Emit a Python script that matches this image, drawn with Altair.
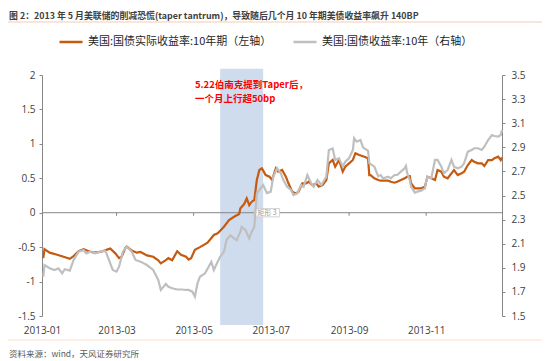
import altair as alt
import pandas as pd

S1 = "美国:国债实际收益率:10年期（左轴）"
S2 = "美国:国债收益率:10年（右轴）"
TITLE = "图 2：2013 年 5 月美联储的削减恐慌(taper tantrum)，导致随后几个月 10 年期美债收益率飙升 140BP"
SOURCE = "资料来源：wind，天风证券研究所"
NOTE = ["5.22伯南克提到Taper后，", "一个月上行超50bp"]

real_dates = ["2013-01-02","2013-01-03","2013-01-07","2013-01-13","2013-01-18","2013-01-23","2013-01-26","2013-01-30",
    "2013-02-03","2013-02-07","2013-02-11","2013-02-16","2013-02-21","2013-02-24","2013-02-28",
    "2013-03-03","2013-03-05","2013-03-08","2013-03-09","2013-03-13","2013-03-17","2013-03-20","2013-03-25","2013-03-30",
    "2013-04-03","2013-04-05","2013-04-09","2013-04-11","2013-04-14","2013-04-18","2013-04-21","2013-04-25","2013-04-27","2013-04-29",
    "2013-05-02","2013-05-06","2013-05-12","2013-05-17","2013-05-20","2013-05-22","2013-05-25","2013-05-29",
    "2013-06-02","2013-06-06","2013-06-07","2013-06-10","2013-06-12","2013-06-14","2013-06-16","2013-06-18","2013-06-20","2013-06-22","2013-06-24","2013-06-27","2013-06-30",
    "2013-07-02","2013-07-05","2013-07-07","2013-07-10","2013-07-13","2013-07-15","2013-07-18","2013-07-21","2013-07-23","2013-07-26","2013-07-29","2013-07-31",
    "2013-08-03","2013-08-06","2013-08-08","2013-08-11","2013-08-14","2013-08-16","2013-08-19","2013-08-21","2013-08-24","2013-08-27","2013-08-29",
    "2013-09-01","2013-09-04","2013-09-06","2013-09-09","2013-09-12","2013-09-16","2013-09-17","2013-09-18","2013-09-21","2013-09-24","2013-09-26",
    "2013-10-02","2013-10-04","2013-10-07","2013-10-09","2013-10-12","2013-10-15","2013-10-17","2013-10-19","2013-10-20","2013-10-23","2013-10-25","2013-10-28","2013-10-31",
    "2013-11-01","2013-11-02","2013-11-05","2013-11-08","2013-11-09","2013-11-10","2013-11-13","2013-11-15","2013-11-18","2013-11-21","2013-11-23","2013-11-26","2013-11-29",
    "2013-12-01","2013-12-04","2013-12-07","2013-12-09","2013-12-12","2013-12-15","2013-12-17","2013-12-20","2013-12-23","2013-12-25","2013-12-28","2013-12-30","2013-12-31"]
real_values = [-0.66,-0.53,-0.58,-0.61,-0.64,-0.67,-0.63,-0.56,
    -0.53,-0.56,-0.58,-0.57,-0.54,-0.52,-0.59,
    -0.66,-0.64,-0.51,-0.49,-0.55,-0.58,-0.57,-0.62,-0.64,
    -0.69,-0.735,-0.69,-0.66,-0.69,-0.56,-0.61,-0.64,-0.68,-0.66,
    -0.54,-0.50,-0.436,-0.324,-0.30,-0.261,-0.203,-0.106,
    -0.058,-0.019,0.064,0.126,0.209,0.11,0.16,0.184,0.475,0.62,0.645,0.547,0.523,
    0.475,0.645,0.596,0.62,0.523,0.427,0.305,0.28,0.305,0.427,0.427,0.45,
    0.40,0.427,0.378,0.40,0.475,0.717,0.766,0.668,0.766,0.597,0.668,
    0.717,0.766,0.863,0.838,0.82,0.79,0.547,0.547,0.50,0.475,0.465,
    0.465,0.45,0.436,0.45,0.475,0.50,0.523,0.533,0.43,0.354,0.354,0.354,0.378,
    0.45,0.523,0.50,0.475,0.547,0.62,0.596,0.523,0.50,0.572,0.62,0.547,0.572,
    0.596,0.693,0.765,0.741,0.717,0.717,0.678,0.765,0.765,0.79,0.814,0.765,0.804]

nominal_dates = ["2013-01-02","2013-01-03","2013-01-07","2013-01-11","2013-01-14","2013-01-17","2013-01-19","2013-01-23","2013-01-26","2013-01-30",
    "2013-02-03","2013-02-05","2013-02-08","2013-02-12","2013-02-16","2013-02-20","2013-02-21","2013-02-24","2013-02-26",
    "2013-03-01","2013-03-03","2013-03-06","2013-03-09","2013-03-13","2013-03-16","2013-03-20","2013-03-25","2013-03-30",
    "2013-04-03","2013-04-05","2013-04-09","2013-04-11","2013-04-14","2013-04-18","2013-04-22","2013-04-25","2013-04-27","2013-04-30",
    "2013-05-02","2013-05-04","2013-05-06","2013-05-10","2013-05-13","2013-05-15","2013-05-17","2013-05-20","2013-05-22","2013-05-25","2013-05-27","2013-05-30",
    "2013-06-02","2013-06-04","2013-06-07","2013-06-08","2013-06-11","2013-06-14","2013-06-16","2013-06-18","2013-06-20","2013-06-23","2013-06-25","2013-06-28",
    "2013-07-01","2013-07-03","2013-07-06","2013-07-09","2013-07-11","2013-07-14","2013-07-17","2013-07-19","2013-07-22","2013-07-25","2013-07-27","2013-07-30",
    "2013-08-02","2013-08-04","2013-08-07","2013-08-10","2013-08-14","2013-08-16","2013-08-19","2013-08-21","2013-08-24","2013-08-27","2013-08-29",
    "2013-09-01","2013-09-04","2013-09-05","2013-09-07","2013-09-10","2013-09-12","2013-09-16","2013-09-17","2013-09-18","2013-09-21","2013-09-24","2013-09-26","2013-09-28",
    "2013-10-02","2013-10-04","2013-10-07","2013-10-09","2013-10-12","2013-10-15","2013-10-16","2013-10-17","2013-10-19","2013-10-20","2013-10-23","2013-10-25","2013-10-28","2013-10-31",
    "2013-11-01","2013-11-02","2013-11-05","2013-11-08","2013-11-10","2013-11-13","2013-11-15","2013-11-18","2013-11-21","2013-11-23","2013-11-26","2013-11-29",
    "2013-12-01","2013-12-04","2013-12-07","2013-12-09","2013-12-12","2013-12-15","2013-12-17","2013-12-20","2013-12-23","2013-12-25","2013-12-28","2013-12-30","2013-12-31"]
nominal_values = [1.826,1.923,1.896,1.882,1.896,1.854,1.888,1.877,1.965,2.034,
    2.048,2.02,2.034,2.02,2.034,2.041,2.02,1.937,1.882,
    1.868,1.909,2.034,2.075,2.034,1.965,1.951,1.923,1.882,
    1.799,1.716,1.766,1.743,1.73,1.72,1.72,1.716,1.716,1.702,
    1.66,1.77,1.826,1.854,1.91,1.95,1.882,1.95,1.992,2.034,2.13,2.17,
    2.145,2.13,2.2,2.24,2.214,2.145,2.2,2.24,2.518,2.56,2.587,2.52,
    2.532,2.656,2.726,2.684,2.628,2.573,2.546,2.504,2.518,2.587,2.573,2.67,
    2.601,2.573,2.628,2.587,2.656,2.878,2.89,2.795,2.81,2.74,2.78,
    2.81,2.878,2.975,2.947,2.961,2.90,2.87,2.768,2.76,2.739,2.66,2.67,2.642,
    2.656,2.642,2.67,2.67,2.698,2.726,2.745,2.684,2.628,2.573,2.523,2.532,2.54,2.56,
    2.615,2.656,2.642,2.795,2.795,2.739,2.684,2.712,2.795,2.739,2.726,2.739,
    2.767,2.864,2.878,2.892,2.892,2.878,2.905,2.96,3.002,2.994,2.988,3.002,3.044]

x_label_dates = ["2013-01-01","2013-03-01","2013-05-01","2013-07-01","2013-09-01","2013-11-01"]
left_ticks = [-1.5, -1, -0.5, 0, 0.5, 1, 1.5, 2]
right_ticks = [1.5, 1.7, 1.9, 2.1, 2.3, 2.5, 2.7, 2.9, 3.1, 3.3, 3.5]
shade_span = ["2013-05-22", "2013-06-25"]
note_date = "2013-05-02"
note_levels = [1.855, 1.651]

ORANGE = "#C55A11"
GRAY = "#BFBFBF"
CJK = "Noto Sans CJK SC"
NUM = "Open Sans"

def dt(s):
    y, m, d = (int(p) for p in s.split("-"))
    return alt.DateTime(year=y, month=m, date=d, utc=True)

xscale = alt.Scale(type="utc", domain=[dt("2013-01-01"), dt("2013-12-31")])
lscale = alt.Scale(domain=[-1.5, 2], nice=False, zero=False)
rscale = alt.Scale(domain=[1.5, 3.5], nice=False, zero=False)
cscale = alt.Scale(domain=[S1, S2], range=[ORANGE, GRAY])

xaxis = alt.Axis(values=[dt(s) for s in x_label_dates], format="%Y-%m", title=None, grid=False,
                 domain=False, ticks=False, tickSize=0, labelPadding=9, labelFontSize=10,
                 labelColor="#404040", labelFont=NUM, labelFlush=False, labelOverlap=False)
laxis = alt.Axis(values=left_ticks, labelExpr="datum.value + ''", title=None, grid=False,
                 domainColor="#868686", tickColor="#868686", tickSize=3, labelPadding=4,
                 labelFontSize=10, labelColor="#404040", labelFont=NUM)
raxis = alt.Axis(values=right_ticks, labelExpr="datum.value + ''", title=None, grid=False, orient="right",
                 domainColor="#868686", tickColor="#868686", tickSize=3, labelPadding=6,
                 labelFontSize=10, labelColor="#404040", labelFont=NUM)
legend = alt.Legend(title=None, orient="none", legendX=16, legendY=-46, direction="horizontal",
                    symbolType="stroke", symbolSize=530, symbolStrokeWidth=2.5, labelFontSize=11,
                    labelFont=CJK, labelColor="#262626", columnPadding=16, labelLimit=400, padding=0,
                    labelOffset=4)

def X(f):
    return alt.X(f, type="temporal", scale=xscale, axis=xaxis)

def YL(f):
    return alt.Y(f, type="quantitative", scale=lscale, axis=laxis)

real_df = pd.DataFrame({"date": real_dates, "v": real_values, "series": S1})
nom_df = pd.DataFrame({"date": nominal_dates, "v": nominal_values, "series": S2})

shade = alt.Chart(pd.DataFrame({"s": [shade_span[0]], "e": [shade_span[1]], "top": [2.09], "bot": [-1.63]})).mark_rect(
    color="#CFDCEE").encode(x=X("s"), x2="e:T", y=YL("top"), y2="bot:Q")

zero = alt.Chart(pd.DataFrame({"z": [0]})).mark_rule(color="#868686", strokeWidth=1).encode(y=YL("z"))

zticks = alt.Chart(pd.DataFrame({"date": x_label_dates[1:], "z": 0.0, "z2": -0.045})).mark_rule(color="#868686").encode(
    x=X("date"), y=YL("z"), y2="z2:Q")

real_line = alt.Chart(real_df).mark_line(strokeWidth=2.2).encode(
    x=X("date"), y=YL("v"), color=alt.Color("series:N", scale=cscale, legend=legend))

notes = alt.Chart(pd.DataFrame({"date": [note_date, note_date], "v": note_levels, "t": NOTE})).mark_text(
    align="left", baseline="middle", color="#FF0000", fontWeight="bold", fontSize=9.5, font=CJK).encode(
    x=X("date"), y=YL("v"), text="t:N")

box = alt.Chart(pd.DataFrame({"s": ["2013-06-18"], "e": ["2013-07-08"], "top": [0.06], "bot": [-0.06]})).mark_rect(
    fill="white", stroke="#C8C8C8", strokeWidth=0.8).encode(x=X("s"), x2="e:T", y=YL("top"), y2="bot:Q")
box_text = alt.Chart(pd.DataFrame({"date": ["2013-06-28"], "v": [0], "t": ["矩形 3"]})).mark_text(
    fontSize=7, color="#999999", font=CJK, baseline="middle").encode(x=X("date"), y=YL("v"), text="t:N")

title = alt.Chart(pd.DataFrame({"t": [TITLE]})).mark_text(
    align="left", baseline="middle", fontSize=8.9, fontWeight="bold", color="#404040", font=CJK).encode(
    x=alt.value(-33), y=alt.value(-59), text="t:N")
source = alt.Chart(pd.DataFrame({"t": [SOURCE]})).mark_text(
    align="left", baseline="middle", fontSize=8.5, color="#595959", font=CJK).encode(
    x=alt.value(-33), y=alt.value(279), text="t:N")
sep_top = alt.Chart(pd.DataFrame({"a": [0]})).mark_rule(color="#F8CBAD", strokeWidth=1).encode(
    x=alt.value(-34), x2=alt.value(500), y=alt.value(-53))
sep_bot = alt.Chart(pd.DataFrame({"a": [0]})).mark_rule(color="#FBE0CC", strokeWidth=1).encode(
    x=alt.value(-34), x2=alt.value(500), y=alt.value(265))

left_group = alt.layer(shade, zero, zticks, real_line, notes, box, box_text, title, source, sep_top, sep_bot)

nom_line = alt.Chart(nom_df).mark_line(strokeWidth=2.2).encode(
    x=X("date"),
    y=alt.Y("v:Q", scale=rscale, axis=raxis),
    color=alt.Color("series:N", scale=cscale, legend=legend))

chart = alt.layer(left_group, nom_line).resolve_scale(y="independent").properties(
    width=460, height=241, autosize="none",
    padding={"left": 34, "top": 67, "right": 40, "bottom": 42}
).configure_view(stroke=None)

chart.save("out.html", embed_options={"renderer": "svg", "actions": False})
